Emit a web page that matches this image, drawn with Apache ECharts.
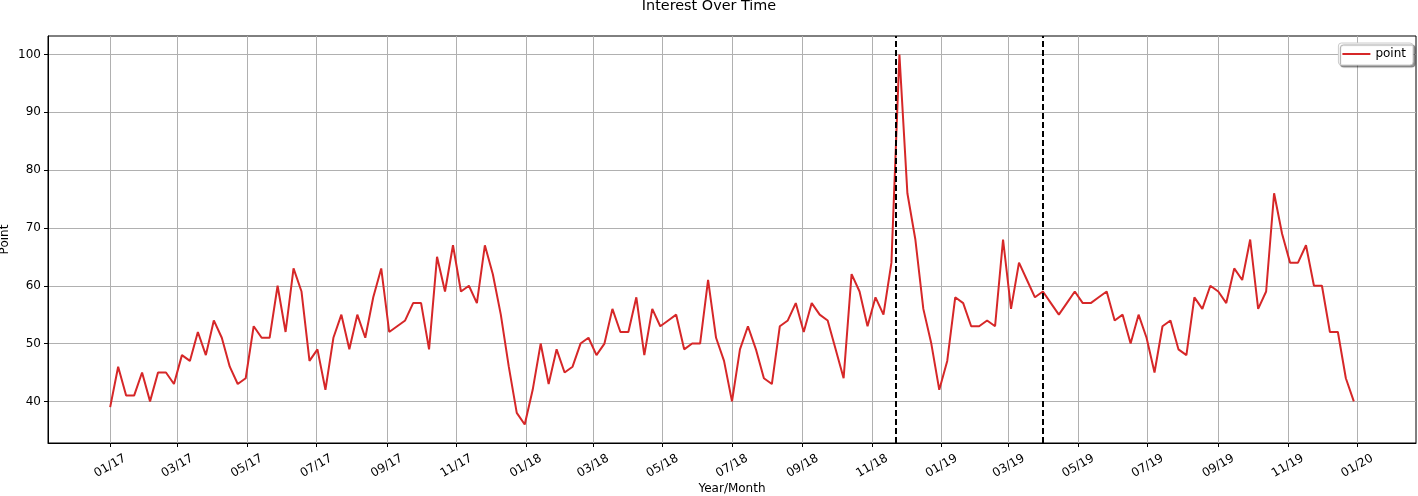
<!DOCTYPE html>
<html><head><meta charset="utf-8">
<script src="https://cdn.jsdelivr.net/npm/echarts@6/dist/echarts.min.js"></script>
<style>html,body{margin:0;padding:0;background:#fff}#c{width:1418px;height:496px}</style>
</head><body><div id="c"></div>
<script>
// weekly points starting 2017-01-01
const startDate = '2017-01-01';
const stepDays = 7;
const points = [
39,46,41,41,45,40,45,45,43,48,47,52,48,54,51,46,43,44,53,51,51,60,52,63,59,47,49,42,51,55,49,55,51,58,63,52,53,54,57,57,
49,65,59,67,59,60,57,67,62,55,46,38,36,42,50,43,49,45,46,50,51,48,50,56,52,52,58,48,56,53,54,55,49,50,50,61,51,47,40,
49,53,49,44,43,53,54,57,52,57,55,54,49,44,62,59,53,58,55,64,100,76,68,56,50,42,47,58,57,53,53,54,53,68,56,64,61,58,59,
57,55,57,59,57,57,58,59,54,55,50,55,51,45,53,54,49,48,58,56,60,59,57,63,61,68,56,59,76,69,64,64,67,60,60,52,52,44,40];
const xTickDates = ['2017-01-01','2017-03-01','2017-05-01','2017-07-01','2017-09-01','2017-11-01',
  '2018-01-01','2018-03-01','2018-05-01','2018-07-01','2018-09-01','2018-11-01',
  '2019-01-01','2019-03-01','2019-05-01','2019-07-01','2019-09-01','2019-11-01','2020-01-01'];
const xTickLabels = ['01/17','03/17','05/17','07/17','09/17','11/17','01/18','03/18','05/18','07/18','09/18','11/18',
  '01/19','03/19','05/19','07/19','09/19','11/19','01/20'];
const yTicks = [40,50,60,70,80,90,100];
const eventDates = ['2018-11-22','2019-03-31'];
const seriesName = 'point';

function ts(s, addDays){ const p = s.split('-').map(Number); return new Date(p[0], p[1]-1, p[2] + (addDays||0)).getTime(); }
const data = points.map((v,i)=>[ts(startDate, i*stepDays), v]);
const x0 = data[0][0], x1 = data[data.length-1][0];
const xpad = 0.05*(x1-x0);
const vmin = Math.min(...points), vmax = Math.max(...points);
const ypad = 0.05*(vmax-vmin);
const xTickTs = xTickDates.map(d=>ts(d));
const font = 'DejaVu Sans';

const chart = echarts.init(document.getElementById('c'), null, {renderer:'canvas'});
chart.setOption({
  animation:false,
  backgroundColor:'#fff',
  title:{text:'Interest Over Time', left:'center', top:-1, padding:0,
    textStyle:{fontFamily:font, fontSize:14.4, fontWeight:'normal', color:'#000'}},
  legend:{right:5, top:43, backgroundColor:'#fff', borderColor:'#cccccc', borderWidth:1, borderRadius:3,
    padding:[5,7,5,4], shadowColor:'rgba(0,0,0,0.4)', shadowOffsetX:2, shadowOffsetY:2, shadowBlur:1,
    icon:'rect', itemWidth:28, itemHeight:2,
    textStyle:{fontFamily:font, fontSize:12, color:'#000'},
    data:[{name:seriesName, itemStyle:{color:'#d62728'}}]},
  grid:{left:48, right:2, top:36, bottom:53, show:true, borderColor:'#000', borderWidth:1, containLabel:false, outerBoundsMode:'none'},
  xAxis:{type:'value', min:x0-xpad, max:x1+xpad, scale:true,
    name:'Year/Month', nameLocation:'middle', nameGap:40, nameMoveOverlap:false,
    nameTextStyle:{fontFamily:font, fontSize:12, color:'#000'},
    axisLine:{show:true, onZero:false, lineStyle:{color:'#000', width:1}},
    axisTick:{show:true, customValues:xTickTs, length:4, lineStyle:{color:'#000'}},
    axisLabel:{show:true, customValues:xTickTs, rotate:30, align:'center', verticalAlign:'middle', margin:23,
      fontFamily:font, fontSize:12, color:'#000', hideOverlap:false,
      formatter:function(v){ const i = xTickTs.indexOf(v); return i>=0 ? xTickLabels[i] : ''; }},
    splitLine:{show:true, lineStyle:{color:'#b0b0b0', width:1}}},
  yAxis:{type:'value', min:vmin-ypad, max:vmax+ypad,
    name:'Point', nameLocation:'middle', nameGap:37, nameMoveOverlap:false,
    nameTextStyle:{fontFamily:font, fontSize:12, color:'#000'},
    axisLine:{show:true, onZero:false, lineStyle:{color:'#000', width:1}},
    axisTick:{show:true, customValues:yTicks, length:4, lineStyle:{color:'#000'}},
    axisLabel:{show:true, customValues:yTicks, margin:7, fontFamily:font, fontSize:12, color:'#000',
      formatter:function(v){ return String(v); }},
    splitLine:{show:true, lineStyle:{color:'#b0b0b0', width:1}}},
  series:[{type:'line', name:seriesName, data:data, symbol:'none', showSymbol:false,
    lineStyle:{color:'#d62728', width:2}, itemStyle:{color:'#d62728'}, z:3,
    markLine:{silent:true, symbol:['none','none'], label:{show:false}, animation:false,
      lineStyle:{color:'#000', type:[6,3], width:2},
      emphasis:{disabled:true},
      data:eventDates.map(d=>({xAxis:ts(d)}))}}]
});
</script></body></html>
